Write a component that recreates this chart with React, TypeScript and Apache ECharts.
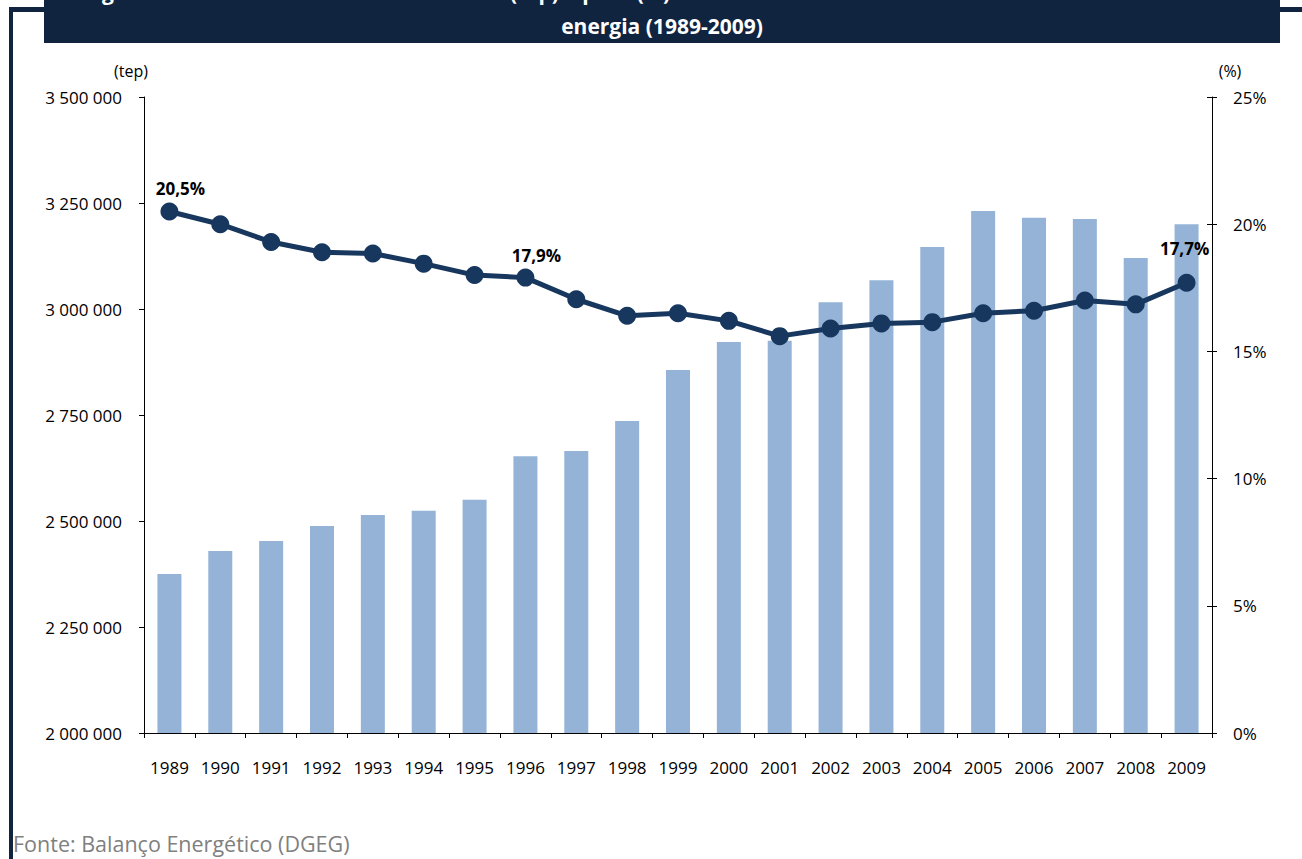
import React, { useEffect, useRef } from "react";
import * as echarts from "echarts";

const years = ["1989", "1990", "1991", "1992", "1993", "1994", "1995", "1996", "1997", "1998", "1999", "2000", "2001", "2002", "2003", "2004", "2005", "2006", "2007", "2008", "2009"];
const consumoTep = [2375000, 2429000, 2453000, 2488000, 2514000, 2524000, 2550000, 2653000, 2665000, 2736000, 2856000, 2922000, 2925000, 3016000, 3068000, 3146000, 3231000, 3215000, 3212000, 3120000, 3200000];
const pesoPct = [20.5, 20.0, 19.3, 18.9, 18.85, 18.45, 18.0, 17.9, 17.05, 16.4, 16.5, 16.2, 15.6, 15.9, 16.1, 16.15, 16.5, 16.6, 17.0, 16.85, 17.7];
const labelledYears = ["1989", "1996", "2009"];

const titleLine1 = "Figura 1 – Consumo no sector doméstico (tep) e peso (%) do consumo do sector doméstico no consumo total de";
const titleLine2 = "energia (1989-2009)";
const sourceText = "Fonte: Balanço Energético (DGEG)";

const FONT = "'Open Sans', sans-serif";
const NAVY = "#10243f";

const fmtThousands = (v: number) => String(v).replace(/\B(?=(\d{3})+(?!\d))/g, " ");
const fmtPct = (v: number) => v.toFixed(1).replace(".", ",") + "%";

export default function App() {
  const ref = useRef<HTMLDivElement>(null);
  useEffect(() => {
    if (!ref.current) return;
    const chart = echarts.init(ref.current, undefined, { renderer: "svg" });
    const lineData = pesoPct.map((v, i) => {
      const y = years[i];
      if (!labelledYears.includes(y)) return v;
      const last = i === years.length - 1;
      return {
        value: v,
        label: {
          show: true,
          position: "top",
          distance: 5,
          offset: last ? [-2, -12] : [11, 0],
          formatter: (p: any) => fmtPct(p.value),
          fontFamily: FONT,
          fontWeight: "bold",
          fontSize: 17,
          color: "#000",
        },
      };
    });
    chart.setOption({
      animation: false,
      backgroundColor: "#ffffff",
      grid: { left: 144, right: 90, top: 97, bottom: 126, containLabel: false, outerBoundsMode: "none" },
      xAxis: {
        type: "category",
        data: years,
        boundaryGap: true,
        axisLine: { lineStyle: { color: "#000", width: 1 } },
        axisTick: { show: true, alignWithLabel: false, length: 5, lineStyle: { color: "#000" } },
        axisLabel: { color: "#000", fontFamily: FONT, fontSize: 17, margin: 26, interval: 0 },
      },
      yAxis: [
        {
          type: "value",
          min: 2000000,
          max: 3500000,
          interval: 250000,
          position: "left",
          axisLine: { show: true, lineStyle: { color: "#000" } },
          axisTick: { show: true, length: 5, lineStyle: { color: "#000" } },
          splitLine: { show: false },
          axisLabel: { color: "#000", fontFamily: FONT, fontSize: 17, margin: 22, formatter: fmtThousands },
        },
        {
          type: "value",
          min: 0,
          max: 25,
          interval: 5,
          position: "right",
          axisLine: { show: true, lineStyle: { color: "#000" } },
          axisTick: { show: true, length: 5, lineStyle: { color: "#000" } },
          splitLine: { show: false },
          axisLabel: { color: "#000", fontFamily: FONT, fontSize: 17, margin: 21, formatter: (v: number) => v + "%" },
        },
        {
          type: "value",
          min: 0,
          max: 25,
          interval: 5,
          position: "right",
          axisLine: { show: false },
          axisTick: { show: true, inside: true, length: 5, lineStyle: { color: "#000" } },
          splitLine: { show: false },
          axisLabel: { show: false },
        },
      ],
      series: [
        {
          type: "bar",
          name: "Consumo (tep)",
          data: consumoTep,
          yAxisIndex: 0,
          barWidth: 24,
          itemStyle: { color: "#95b3d7" },
          z: 2,
        },
        {
          type: "line",
          name: "Peso (%)",
          data: lineData,
          yAxisIndex: 1,
          symbol: "circle",
          symbolSize: 18,
          lineStyle: { color: "#17375e", width: 5 },
          itemStyle: { color: "#17375e" },
          z: 5,
        },
      ],
      graphic: [
        { type: "rect", shape: { x: 9, y: 7, width: 1293, height: 5 }, style: { fill: NAVY }, z: 10 },
        { type: "rect", shape: { x: 9, y: 7, width: 4, height: 852 }, style: { fill: NAVY }, z: 10 },
        { type: "rect", shape: { x: 44, y: 0, width: 1236, height: 43 }, style: { fill: NAVY }, z: 11 },
        {
          type: "text",
          x: 662,
          y: -8,
          z: 12,
          style: { text: titleLine1, fill: "#fff", font: `bold 21px ${FONT}`, textAlign: "center", textVerticalAlign: "middle" },
        },
        {
          type: "text",
          x: 662,
          y: 25.5,
          z: 12,
          style: { text: titleLine2, fill: "#fff", font: `bold 21px ${FONT}`, textAlign: "center", textVerticalAlign: "middle" },
        },
        {
          type: "text",
          x: 131,
          y: 71,
          style: { text: "(tep)", fill: "#000", font: `16px ${FONT}`, textAlign: "center", textVerticalAlign: "middle" },
        },
        {
          type: "text",
          x: 1230,
          y: 71,
          style: { text: "(%)", fill: "#000", font: `16px ${FONT}`, textAlign: "center", textVerticalAlign: "middle" },
        },
        {
          type: "text",
          x: 13,
          y: 843,
          style: { text: sourceText, fill: "#808080", font: `21.5px ${FONT}`, textAlign: "left", textVerticalAlign: "middle" },
        },
      ],
    });
    return () => chart.dispose();
  }, []);
  return <div ref={ref} style={{ position: "fixed", left: 0, top: 0, width: 1302, height: 859 }} />;
}
